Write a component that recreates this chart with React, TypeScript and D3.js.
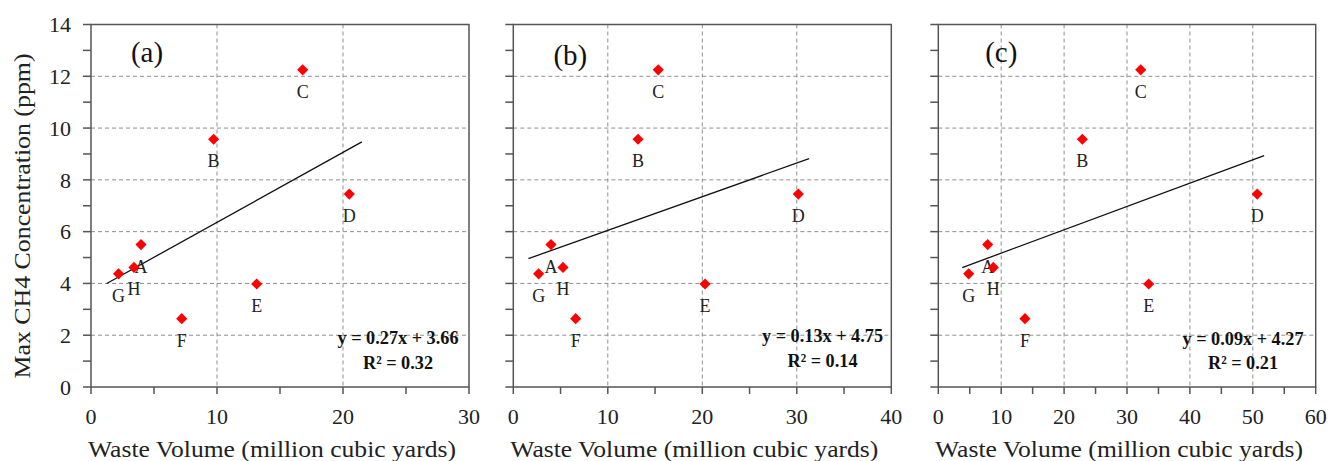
import React from "react";
import * as d3 from "d3";

const pointLabels = ["A", "B", "C", "D", "E", "F", "G", "H"];
const concentration = [5.5, 9.57, 12.25, 7.45, 3.98, 2.64, 4.37, 4.62];
const volumeA = [3.97, 9.73, 16.8, 20.5, 13.15, 7.2, 2.19, 3.41];
const volumeB = [3.99, 13.2, 15.34, 30.16, 20.29, 6.6, 2.68, 5.26];
const volumeC = [7.85, 22.9, 32.18, 50.7, 33.45, 13.78, 4.83, 8.75];
const panelNames = ["(a)", "(b)", "(c)"];
const slopes = [0.27, 0.13, 0.09];
const intercepts = [3.66, 4.75, 4.27];
const rSquared = ["0.32", "0.14", "0.21"];
const fitRanges = [[1.25, 21.5], [1.6, 31.3], [3.8, 51.8]];
const xMaxes = [30, 40, 60];
const yTickValues = [0, 2, 4, 6, 8, 10, 12, 14];

const volumes = [volumeA, volumeB, volumeC];

const W = 1328;
const H = 461;
const TOP = 24.5;
const BOTTOM = 387;
const panelX = [[91, 469], [513.3, 891.3], [938.3, 1315.7]];
const nameOffset = [56, 57, 63];
const nameBase = [62, 65, 62];
const eqCenter = [398, 822.5, 1243];
const eqBase = [[344, 369], [342, 367], [345, 369]];

const FONT = "'Liberation Serif', 'Times New Roman', serif";
const AXIS = "#555";
const GRID = "#8f8f8f";

function Panel({ i }: { i: number }) {
  const [x0, x1] = panelX[i];
  const x = d3.scaleLinear().domain([0, xMaxes[i]]).range([x0, x1]);
  const y = d3.scaleLinear().domain([0, 14]).range([BOTTOM, TOP]);
  const majorX = d3.range(0, xMaxes[i] + 0.001, 10);
  const minorX = d3.range(0, xMaxes[i] + 0.001, 5);
  const minorY = d3.range(0, 14.001, 1);
  const diamond = d3.symbol().type(d3.symbolSquare).size(62)() as string;
  const fit = d3
    .line<number>()
    .x((v) => x(v))
    .y((v) => y(slopes[i] * v + intercepts[i]));
  const vols = volumes[i];
  const eq1 = `y = ${slopes[i].toFixed(2)}x + ${intercepts[i].toFixed(2)}`;
  const eq2 = `R² = ${rSquared[i]}`;
  return (
    <g>
      {yTickValues
        .filter((v) => v > 0 && v < 14)
        .map((v) => (
          <line key={"gy" + v} x1={x0} x2={x1} y1={y(v)} y2={y(v)} stroke={GRID} strokeWidth={1} strokeDasharray="4,3" />
        ))}
      {majorX
        .filter((v) => v > 0 && v < xMaxes[i])
        .map((v) => (
          <line key={"gx" + v} x1={x(v)} x2={x(v)} y1={TOP} y2={BOTTOM} stroke={GRID} strokeWidth={1} strokeDasharray="4,3" />
        ))}
      <rect x={x0} y={TOP} width={x1 - x0} height={BOTTOM - TOP} fill="none" stroke={AXIS} strokeWidth={1.5} />
      {minorY.map((v) => (
        <line key={"ty" + v} x1={x0 - 8} x2={x0} y1={y(v)} y2={y(v)} stroke={AXIS} strokeWidth={1.5} />
      ))}
      {minorX.map((v) => (
        <line key={"tx" + v} x1={x(v)} x2={x(v)} y1={BOTTOM} y2={BOTTOM + 7} stroke={AXIS} strokeWidth={1.5} />
      ))}
      {i === 0 &&
        yTickValues.map((v) => (
          <text key={"ly" + v} x={x0 - 20} y={y(v)} dy="0.35em" textAnchor="end" fontSize={22} fontFamily={FONT} fill="#222">
            {v}
          </text>
        ))}
      {majorX.map((v) => (
        <text key={"lx" + v} x={x(v)} y={424} textAnchor="middle" fontSize={22} fontFamily={FONT} fill="#222">
          {v}
        </text>
      ))}
      <text x={(x0 + x1) / 2 - 8} y={457} textAnchor="middle" fontSize={23} fontFamily={FONT} fill="#222" textLength={368} lengthAdjust="spacingAndGlyphs">
        Waste Volume (million cubic yards)
      </text>
      <text x={x0 + nameOffset[i]} y={nameBase[i]} textAnchor="middle" fontSize={29} fontFamily={FONT} fill="#111">
        {panelNames[i]}
      </text>
      <path d={fit(fitRanges[i]) as string} fill="none" stroke="#111" strokeWidth={1.3} />
      {vols.map((v, k) => (
        <g key={"p" + k}>
          <path d={diamond} transform={`translate(${x(v)},${y(concentration[k])}) rotate(45)`} fill="#ff0000" />
          <text x={x(v)} y={y(concentration[k]) + 28} textAnchor="middle" fontSize={18} fontFamily={FONT} fill="#222">
            {pointLabels[k]}
          </text>
        </g>
      ))}
      <text x={eqCenter[i]} y={eqBase[i][0]} textAnchor="middle" fontSize={19} fontWeight="bold" fontFamily={FONT} fill="#111" textLength={121} lengthAdjust="spacingAndGlyphs">
        {eq1}
      </text>
      <text x={eqCenter[i]} y={eqBase[i][1]} textAnchor="middle" fontSize={19} fontWeight="bold" fontFamily={FONT} fill="#111" textLength={70} lengthAdjust="spacingAndGlyphs">
        {eq2}
      </text>
    </g>
  );
}

export default function App() {
  return (
    <svg width={W} height={H} style={{ position: "absolute", left: 0, top: 0, background: "#fff" }}>
      <rect width={W} height={H} fill="#fff" />
      {[0, 1, 2].map((i) => (
        <Panel key={i} i={i} />
      ))}
      <text
        transform="translate(30,216) rotate(-90)"
        textAnchor="middle"
        fontSize={23}
        fontFamily={FONT}
        fill="#222"
        textLength={325}
        lengthAdjust="spacingAndGlyphs"
      >
        Max CH4 Concentration (ppm)
      </text>
    </svg>
  );
}
